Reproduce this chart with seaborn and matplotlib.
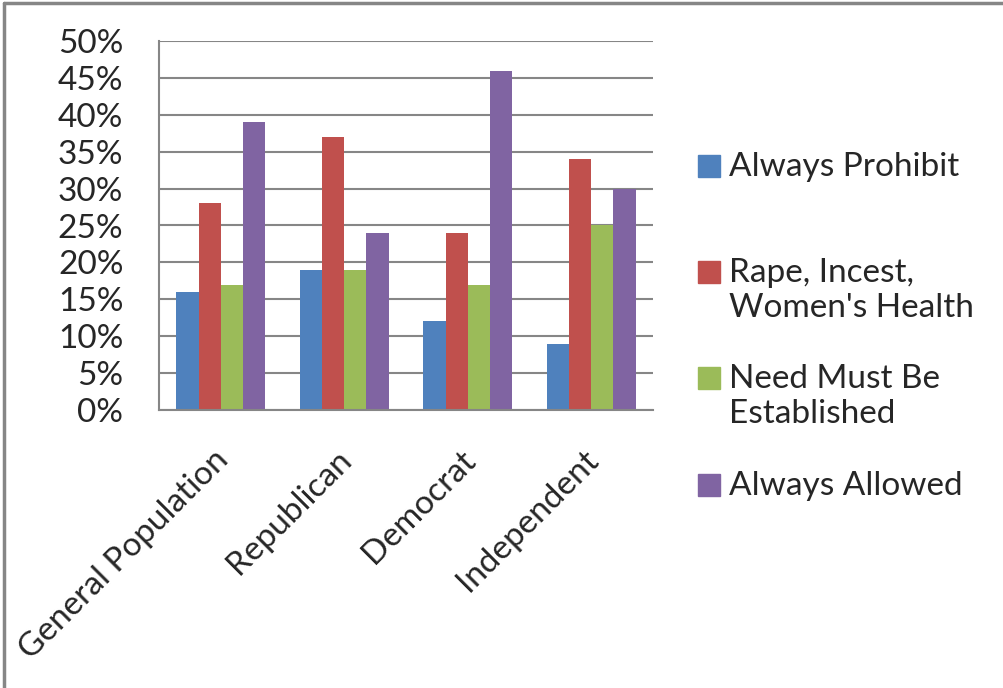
import matplotlib
matplotlib.use("Agg")
import matplotlib.pyplot as plt
import matplotlib.patches as mpatches
import matplotlib.lines as mlines
import matplotlib.transforms as mtransforms
import seaborn as sns
import pandas as pd
from matplotlib.ticker import PercentFormatter, MultipleLocator

categories = ["General Population", "Republican", "Democrat", "Independent"]
series = ["Always Prohibit", "Rape, Incest,\nWomen's Health", "Need Must Be\nEstablished", "Always Allowed"]
always_prohibit = [16, 19, 12, 9]
rape_incest_health = [28, 37, 24, 34]
need_established = [17, 19, 17, 25]
always_allowed = [39, 24, 46, 30]
colors = ["#4F81BD", "#C0504D", "#9BBB59", "#8064A2"]

values = [always_prohibit, rape_incest_health, need_established, always_allowed]
rows = []
for s, vals in zip(series, values):
    for c, v in zip(categories, vals):
        rows.append({"Category": c, "Series": s, "Value": v})
df = pd.DataFrame(rows)

sns.set_style("white")
plt.rcParams["font.family"] = ["Lato", "DejaVu Sans"]

fig = plt.figure(figsize=(10.04, 6.88), dpi=100)
ax = fig.add_axes([159/1004, 1-410/688, (653-159)/1004, (410-41)/688])

sns.barplot(data=df, x="Category", y="Value", hue="Series", palette=colors,
            width=0.72, gap=0, saturation=1, ax=ax, legend=False, linewidth=0, errorbar=None)

grid_c = "#868686"
ax.set_ylim(0, 50)
ax.set_xlim(-0.5, 3.5)
ax.yaxis.set_major_locator(MultipleLocator(5))
ax.yaxis.set_major_formatter(PercentFormatter(decimals=0))
ax.yaxis.grid(True, color=grid_c, linewidth=1.5)
ax.set_axisbelow(True)
for sp in ["top", "right"]:
    ax.spines[sp].set_visible(False)
for sp in ["left", "bottom"]:
    ax.spines[sp].set_color(grid_c)
    ax.spines[sp].set_linewidth(1.5)
ax.set_xlabel("")
ax.set_ylabel("")
ax.set_xticks([-0.5, 0.5, 1.5, 2.5, 3.5], minor=False)
ax.set_xticklabels([])
ax.set_xticks([0, 1, 2, 3], minor=True)
ax.set_xticklabels(categories, minor=True, rotation=45, ha="right", rotation_mode="anchor", fontsize=24)
ax.tick_params(axis="x", which="major", length=9.4, color=grid_c, width=1.5, direction="out")
ax.tick_params(axis="x", which="minor", length=0, pad=25)
ax.tick_params(axis="y", length=8.6, color=grid_c, width=1.5, direction="out", labelsize=24, pad=17)

# legend drawn manually (Excel-style: handle aligned with first text line)
leg_y = [166, 272, 378, 485]
for s, c, y in zip(series, colors, leg_y):
    fig.patches.append(mpatches.Rectangle((698/1004, 1-(y+11)/688), 22/1004, 22/688,
                                          transform=fig.transFigure, color=c))
    fig.text(729/1004, 1-(y-14)/688, s, fontsize=24, va="top", ha="left", linespacing=1.2)

# outer chart border (only top and left visible in the reference crop)
fig.lines.append(mlines.Line2D([4/1004, 4/1004], [0, 1-3/688], transform=fig.transFigure,
                               color=grid_c, linewidth=2.5))
fig.lines.append(mlines.Line2D([4/1004, 1], [1-3/688, 1-3/688], transform=fig.transFigure,
                               color=grid_c, linewidth=2.5))

fig.canvas.draw()
shift = mtransforms.ScaledTranslation(-8/100, 0, fig.dpi_scale_trans)
for lab in ax.get_xticklabels(minor=True):
    lab.set_transform(lab.get_transform() + shift)

fig.savefig("out.png", dpi=100)
